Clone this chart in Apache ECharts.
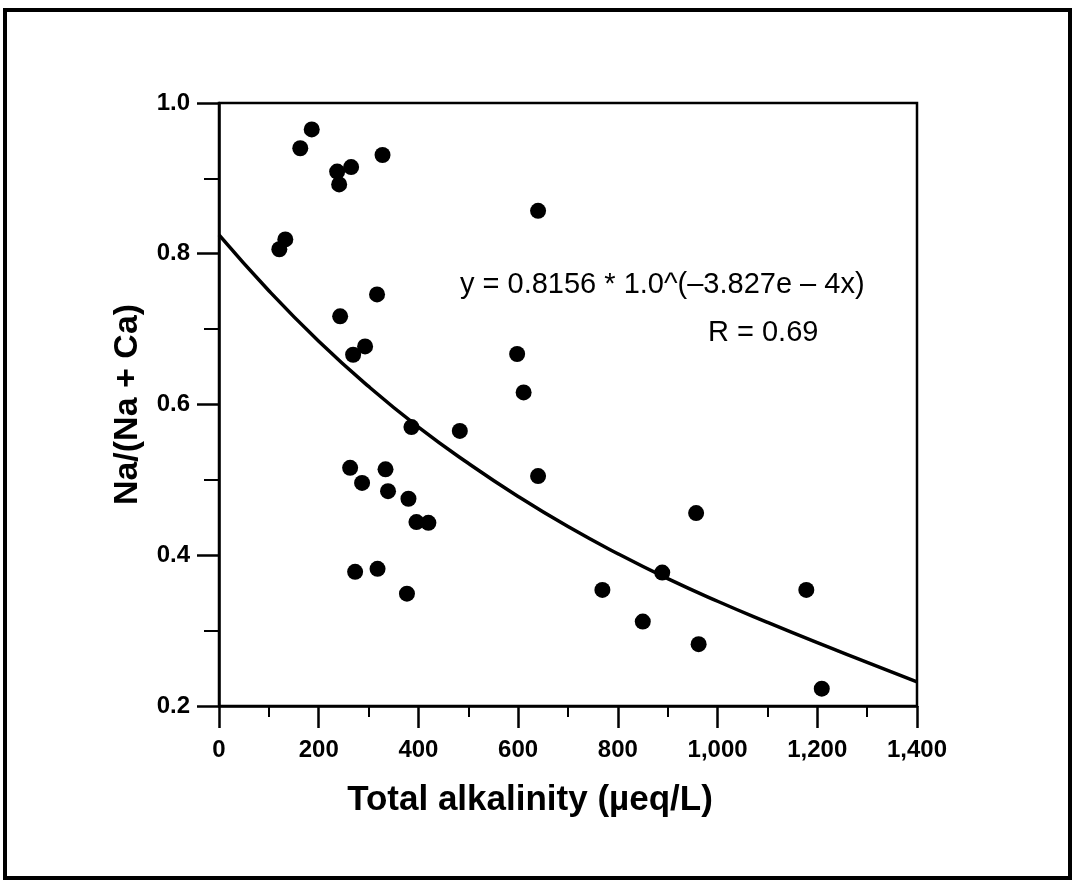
<!DOCTYPE html>
<html>
<head>
<meta charset="utf-8">
<script src="https://cdn.jsdelivr.net/npm/echarts@6/dist/echarts.min.js"></script>
<style>
html,body{margin:0;padding:0;background:#fff;}
#c{width:1077px;height:882px;}
</style>
</head>
<body>
<div id="c"></div>
<script>
// Observed data points: total alkalinity (µeq/L) and Na/(Na+Ca)
const alkalinity = [186, 163, 265, 237, 241, 328, 640, 133, 121, 317, 243, 293, 269, 598, 611,
  386, 483, 640, 263, 334, 287, 339, 380, 396, 420, 273, 318, 377,
  957, 889, 769, 1178, 850, 962, 1209];
const naRatio = [0.965, 0.940, 0.915, 0.909, 0.892, 0.931, 0.857, 0.819, 0.806, 0.746, 0.717, 0.677, 0.666, 0.667, 0.616,
  0.570, 0.565, 0.505, 0.516, 0.514, 0.496, 0.485, 0.475, 0.444, 0.443, 0.378, 0.382, 0.349,
  0.456, 0.377, 0.354, 0.354, 0.312, 0.282, 0.223];

// Fitted curve
const curveX = [0, 100, 200, 300, 400, 500, 600, 700, 800, 900, 1000, 1100, 1200, 1300, 1400];
const curveY = [0.825, 0.751, 0.684, 0.624, 0.570, 0.522, 0.478, 0.438, 0.402, 0.369, 0.339, 0.311, 0.284, 0.258, 0.232];

const xTicks = [0, 200, 400, 600, 800, 1000, 1200, 1400];
const yTicks = [0.2, 0.4, 0.6, 0.8, 1.0];

const equationText = 'y = 0.8156 * 1.0^(\u20133.827e \u2013 4x)';
const rText = 'R = 0.69';

const chart = echarts.init(document.getElementById('c'), null, {renderer: 'canvas'});
const font = 'Liberation Sans, Arial, Helvetica, sans-serif';

chart.setOption({
  backgroundColor: '#fff',
  animation: false,
  grid: {left: 219, top: 103, right: 160, bottom: 176, show: true, borderColor: '#000', borderWidth: 2.5, backgroundColor: 'transparent'},
  xAxis: {
    type: 'value', min: xTicks[0], max: xTicks[xTicks.length - 1], interval: 200,
    name: 'Total alkalinity (\u00b5eq/L)', nameLocation: 'middle', nameGap: 77,
    nameTextStyle: {fontFamily: font, fontSize: 35, fontWeight: 'bold', color: '#000', padding: [0, 76, 0, 0]},
    axisLine: {show: true, lineStyle: {color: '#000', width: 2.5}},
    axisTick: {show: true, length: 22, lineStyle: {color: '#000', width: 2.5}},
    minorTick: {show: true, splitNumber: 2, length: 11, lineStyle: {color: '#000', width: 2}},
    splitLine: {show: false}, minorSplitLine: {show: false},
    axisLabel: {margin: 32, fontFamily: font, fontSize: 24, fontWeight: 'bold', color: '#000',
      formatter: v => v >= 1000 ? Math.floor(v / 1000) + ',' + String(v % 1000).padStart(3, '0') : String(v)}
  },
  yAxis: {
    type: 'value', min: yTicks[0], max: yTicks[yTicks.length - 1], interval: 0.2,
    name: 'Na/(Na + Ca)', nameLocation: 'middle', nameGap: 74,
    nameTextStyle: {fontFamily: font, fontSize: 34, fontWeight: 'bold', color: '#000'},
    axisLine: {show: true, lineStyle: {color: '#000', width: 2.5}},
    axisTick: {show: true, length: 22, lineStyle: {color: '#000', width: 2.5}},
    minorTick: {show: true, splitNumber: 2, length: 15, lineStyle: {color: '#000', width: 2}},
    splitLine: {show: false}, minorSplitLine: {show: false},
    axisLabel: {margin: 29, fontFamily: font, fontSize: 24, fontWeight: 'bold', color: '#000',
      formatter: v => v.toFixed(1)}
  },
  series: [
    {
      type: 'line', data: curveX.map((x, i) => [x, curveY[i]]), smooth: true, showSymbol: false,
      lineStyle: {color: '#000', width: 3.5}, z: 2, silent: true
    },
    {
      type: 'scatter', data: alkalinity.map((x, i) => [x, naRatio[i]]), symbol: 'circle', symbolSize: 16,
      itemStyle: {color: '#000', opacity: 1}, z: 3
    }
  ],
  graphic: [
    {type: 'rect', shape: {x: 5, y: 10, width: 1065, height: 868}, style: {fill: 'none', stroke: '#000', lineWidth: 4}, z: 10},
    {type: 'text', left: 460, top: 270, style: {text: equationText, fontFamily: font, fontSize: 29, fill: '#000'}},
    {type: 'text', left: 708, top: 318, style: {text: rText, fontFamily: font, fontSize: 29, fill: '#000'}}
  ]
});
</script>
</body>
</html>
